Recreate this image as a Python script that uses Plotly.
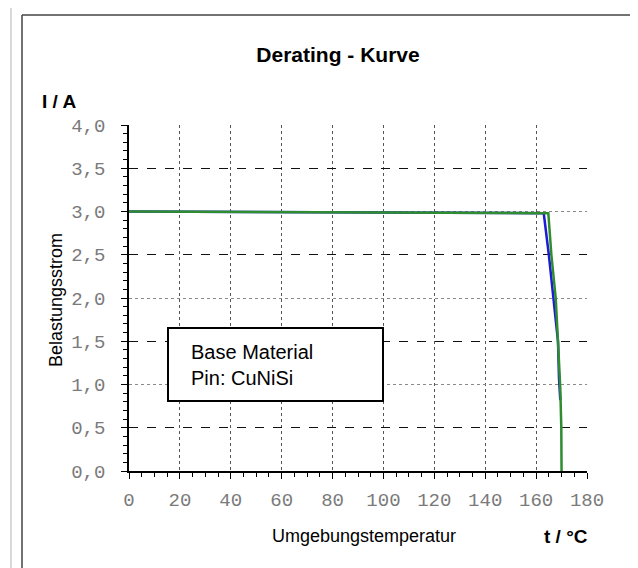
import plotly.graph_objects as go

# ---- data ----
temp_blue = [0, 163.0, 165.0, 166.9, 168.6, 169.0, 169.5]
curr_blue = [3.00, 2.98, 2.50, 2.00, 1.50, 1.07, 0.82]

temp_green = [0, 164.8, 166.0, 167.7, 168.6, 169.5, 169.9, 170.0]
curr_green = [3.00, 2.98, 2.50, 2.00, 1.50, 0.96, 0.50, 0.0]

x_ticks = [0, 20, 40, 60, 80, 100, 120, 140, 160, 180]
y_ticks = [0.0, 0.5, 1.0, 1.5, 2.0, 2.5, 3.0, 3.5, 4.0]
y_grid_light = [1.0, 2.0, 3.0, 4.0]
y_grid_dark = [0.5, 1.5, 2.5, 3.5]

W, H = 638, 568
L, R, T, B = 121, 59, 117, 105
pw, ph = W - L - R, H - T - B


def px(x):
    return (x - L) / pw


def py(y):
    return (H - B - y) / ph


tick_font = dict(family="Liberation Mono", size=19, color="#7a7a7a")
sans = "Liberation Sans"

fig = go.Figure()
fig.add_trace(go.Scatter(x=temp_blue, y=curr_blue, mode="lines",
                         line=dict(color="#1c1cd6", width=2.5), showlegend=False,
                         hoverinfo="skip"))
fig.add_trace(go.Scatter(x=temp_green, y=curr_green, mode="lines",
                         line=dict(color="#2f8c2f", width=2.5), showlegend=False,
                         hoverinfo="skip"))
# helper (empty) traces so overlay axes are rendered
fig.add_trace(go.Scatter(x=[None], y=[None], yaxis="y2", showlegend=False))
fig.add_trace(go.Scatter(x=[None], y=[None], yaxis="y3", showlegend=False))

fig.update_layout(
    width=W, height=H,
    margin=dict(l=L, r=R, t=T, b=B),
    paper_bgcolor="white", plot_bgcolor="white",
    separators=",.",
    showlegend=False,
    xaxis=dict(range=[0, 180], tickvals=x_ticks, showgrid=True,
               gridcolor="#555555", griddash="dot", gridwidth=1,
               showline=True, linecolor="black", linewidth=1.5,
               ticks="outside", ticklen=6, tickcolor="black", tickwidth=1.2,
               minor=dict(dtick=5, ticks="outside", ticklen=4, tickcolor="black", showgrid=False),
               tickfont=tick_font, zeroline=False, ticklabelstandoff=4, fixedrange=True),
    yaxis=dict(range=[0, 4], tickvals=y_ticks, tickformat=".1f", showgrid=False,
               showline=True, linecolor="black", linewidth=1.5,
               ticks="outside", ticklen=6, tickcolor="black", tickwidth=1.2,
               minor=dict(dtick=0.1, ticks="outside", ticklen=4, tickcolor="black", showgrid=False),
               tickfont=tick_font, zeroline=False, ticklabelstandoff=12, fixedrange=True),
    yaxis2=dict(range=[0, 4], overlaying="y", tickvals=y_grid_light, showgrid=True,
                gridcolor="#8a8a8a", griddash="dot", gridwidth=1,
                showticklabels=False, ticks="", showline=False, zeroline=False),
    yaxis3=dict(range=[0, 4], overlaying="y", tickvals=y_grid_dark, showgrid=True,
                gridcolor="#111111", griddash="dash", gridwidth=1.2,
                showticklabels=False, ticks="", showline=False, zeroline=False),
)

fig.update_layout(title=dict(text="Derating - Kurve", xref="container", yref="container",
                             x=330 / W, y=1 - 47 / H, xanchor="center", yanchor="middle",
                             font=dict(family=sans, size=21, color="black", weight="bold")))

annotations = [
    dict(text="I / A", x=px(51), y=py(93), font=dict(family=sans, size=19, color="black", weight="bold")),
    dict(text="Belastungsstrom", x=px(48), y=py(292), textangle=-90,
         font=dict(family=sans, size=18, color="black")),
    dict(text="Umgebungstemperatur", x=px(356), y=py(528),
         font=dict(family=sans, size=18, color="black")),
    dict(text="t / °C", x=px(558), y=py(528),
         font=dict(family=sans, size=19, color="black", weight="bold")),
    dict(text="Base Material<br>Pin: CuNiSi", x=px(181), y=py(357), xanchor="left", align="left",
         font=dict(family=sans, size=20, color="black")),
]
for a in annotations:
    a.setdefault("xanchor", "center")
    a.update(xref="paper", yref="paper", yanchor="middle", showarrow=False)
fig.update_layout(annotations=annotations)

shapes = [
    # legend-like text box
    dict(type="rect", xref="paper", yref="paper", x0=px(160), x1=px(375), y0=py(393), y1=py(320),
         line=dict(color="black", width=2), fillcolor="white", layer="above"),
    # page frame
    dict(type="line", xref="paper", yref="paper", x0=px(14), x1=px(14), y0=py(7), y1=py(570),
         line=dict(color="#444444", width=1.5)),
    dict(type="line", xref="paper", yref="paper", x0=px(14), x1=px(640), y0=py(7), y1=py(7),
         line=dict(color="#444444", width=1.5)),
    dict(type="line", xref="paper", yref="paper", x0=px(3), x1=px(3), y0=py(0), y1=py(570),
         line=dict(color="#cccccc", width=1.5)),
]
fig.update_layout(shapes=shapes)

fig.write_html("out.html")
